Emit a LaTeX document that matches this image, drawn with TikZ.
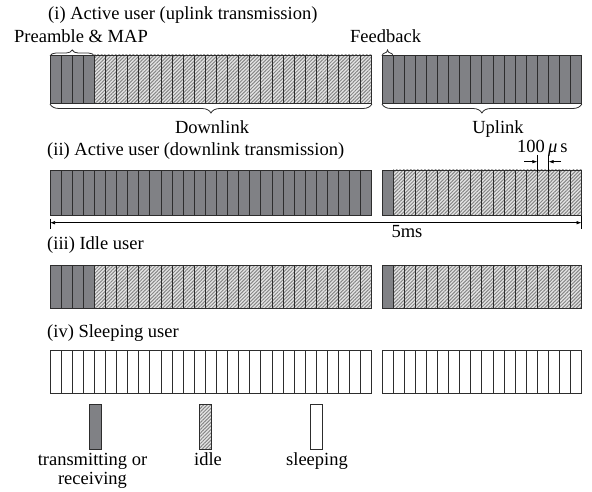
\documentclass[tikz,border=0pt]{standalone}
\usepackage{fontspec}
\setmainfont{Liberation Serif}
\usetikzlibrary{patterns.meta,decorations.pathreplacing,arrows.meta}
\definecolor{dk}{RGB}{128,129,133}
\definecolor{edge}{RGB}{45,45,45}
\tikzset{
 cellT/.style={draw=edge, line width=0.9pt, fill=dk},
 cellI/.style={draw=edge, line width=0.9pt, preaction={fill=gray!20}, pattern={Lines[angle=45,distance=2.5pt,line width=1pt]}, pattern color=gray!95},
 cellS/.style={draw=edge, line width=0.9pt, fill=white},
 lbl/.style={font=\fontsize{18.5}{21}\selectfont, inner sep=0pt},
 brc/.style={draw=edge, line width=0.8pt, decorate, decoration={brace, amplitude=#1}},
 tip/.style={line width=0.7pt, -{Latex[length=5pt,width=3.5pt]}},
}
\newcommand\cellrun[6]{% style, x0, ytop, height, first, last
 \foreach \i in {#5,...,#6}{\draw[#1] ({#2+\i*11.1},#3) rectangle ++(11.1,#4);}}
\begin{document}
\begin{tikzpicture}[x=1pt,y=-1pt]
\useasboundingbox (0,0) rectangle (592,492);
% ---------- row (i)
\node[lbl, anchor=base west] (t1) at (48,19.5) {(i) Active user (uplink transmission)};
\cellrun{cellT}{50}{55}{48}{0}{3}
\cellrun{cellI}{50}{55}{48}{4}{28}
\cellrun{cellT}{382}{55}{48}{0}{17}
\draw[brc=6pt] (50,56) -- (94.4,56);
\node[lbl, anchor=base west] (pm) at (14,43) {Preamble \& MAP};
\draw[brc=6pt] (382,56) -- (393.1,56);
\node[lbl, anchor=base west] (fb) at (350,43) {Feedback};
\draw[brc=9pt] (371.9,104) -- (50,104);
\node[lbl, anchor=base] (dl) at (212,134) {Downlink};
\draw[brc=9pt] (581.8,104) -- (382,104);
\node[lbl, anchor=base] (ul) at (498,134) {Uplink};
% ---------- row (ii)
\node[lbl, anchor=base west] (t2) at (47,156) {(ii) Active user (downlink transmission)};
\cellrun{cellT}{50}{170}{45}{0}{28}
\cellrun{cellT}{382}{170}{45}{0}{0}
\cellrun{cellI}{382}{170}{45}{1}{17}
\coordinate (m1) at (537.4,155);
\coordinate (m2) at (548.5,155);
\draw[line width=0.7pt] (m1) -- ++(0,17);
\draw[line width=0.7pt] (m2) -- ++(0,17);
\coordinate (a1) at (524,161.7);
\coordinate (a2) at (561,161.7);
\draw[tip] (a1) -- (a1 -| m1);
\draw[tip] (a2) -- (a2 -| m2);
\node[lbl, anchor=base west] (us) at (517,153) {100\,{\itshape μ}\,s};
\coordinate (L0) at (50,222.7);
\coordinate (R0) at (581.6,222.7);
\draw[line width=0.7pt, {Latex[length=5pt,width=3.5pt]}-{Latex[length=5pt,width=3.5pt]}] (L0) -- (R0);
\draw[line width=0.7pt] (50,218.5) -- (50,228.5);
\draw[line width=0.7pt] (581.6,216) -- (581.6,229);
\node[lbl, anchor=base] (fm) at (407,237) {5ms};
% ---------- row (iii)
\node[lbl, anchor=base west] (t3) at (47,249) {(iii) Idle user};
\cellrun{cellT}{50}{265}{43}{0}{3}
\cellrun{cellI}{50}{265}{43}{4}{28}
\cellrun{cellT}{382}{265}{43}{0}{0}
\cellrun{cellI}{382}{265}{43}{1}{17}
% ---------- row (iv)
\node[lbl, anchor=base west] (t4) at (47,337) {(iv) Sleeping user};
\cellrun{cellS}{50}{350}{43.5}{0}{28}
\cellrun{cellS}{382}{350}{43.5}{0}{17}
% ---------- legend
\draw[cellT] (89,404) rectangle (101,449);
\draw[cellI] (199,404) rectangle (211,449);
\draw[cellS] (310,404) rectangle (322,449);
\node[lbl, anchor=base] (g1) at (92.5,465) {transmitting or};
\node[lbl, anchor=base] (g2) at (92.5,484) {receiving};
\node[lbl, anchor=base] (g3) at (208,465) {idle};
\node[lbl, anchor=base] (g4) at (317,465) {sleeping};
\end{tikzpicture}
\end{document}
